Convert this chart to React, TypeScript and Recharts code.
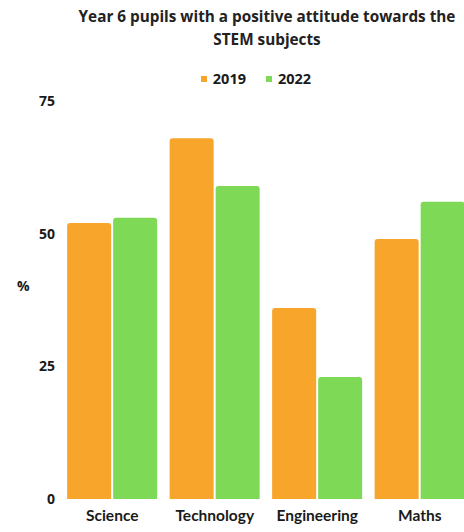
import React from "react";
import { BarChart, Bar, XAxis, YAxis, Legend } from "recharts";

const subjects = ["Science", "Technology", "Engineering", "Maths"];
const values2019 = [52, 68, 36, 49];
const values2022 = [53, 59, 23, 56];
const yTicks = [0, 25, 50, 75];

const ORANGE = "#F8A52C";
const GREEN = "#7ED956";
const FONT = "'Open Sans', sans-serif";

const data = subjects.map((s, i) => ({ subject: s, y2019: values2019[i], y2022: values2022[i] }));

function LegendContent() {
  const items = [
    { label: "2019", color: ORANGE },
    { label: "2022", color: GREEN },
  ];
  return (
    <div style={{ display: "flex", justifyContent: "center", gap: 20, fontFamily: FONT, fontWeight: 700, fontSize: 14.5, color: "#1a1a1a" }}>
      {items.map((it) => (
        <div key={it.label} style={{ display: "flex", alignItems: "center" }}>
          <span style={{ width: 6, height: 6, background: it.color, marginRight: 6, display: "inline-block" }} />
          {it.label}
        </div>
      ))}
    </div>
  );
}

export default function App() {
  return (
    <div style={{ position: "fixed", left: 0, top: 0, width: 464, height: 532, overflow: "hidden", background: "#fff" }}>
      <div
        style={{
          position: "absolute",
          top: 5,
          left: 70,
          width: 394,
          textAlign: "center",
          fontFamily: FONT,
          fontWeight: 700,
          fontSize: 15.3,
          lineHeight: "23px",
          color: "#222",
          zIndex: 2,
        }}
      >
        Year 6 pupils with a positive attitude towards the
        <br />
        STEM subjects
      </div>
      <BarChart
        width={482}
        height={532}
        data={data}
        margin={{ top: 82, right: 11, bottom: 5, left: 0 }}
        barCategoryGap="6%"
        barGap={2}
      >
        <Legend
          content={<LegendContent />}
          verticalAlign="top"
          wrapperStyle={{ top: 69, left: 146, width: 220 }}
        />
        <XAxis
          dataKey="subject"
          axisLine={false}
          tickLine={false}
          tickMargin={5}
          height={28}
          tick={{ fill: "#1a1a1a", fontFamily: "Lato, sans-serif", fontWeight: 700, fontSize: 15.5 }}
        />
        <YAxis
          width={61}
          domain={[0, 75]}
          ticks={yTicks}
          axisLine={false}
          tickLine={false}
          tickMargin={0}
          tick={{ fill: "#1a1a1a", fontFamily: FONT, fontWeight: 700, fontSize: 14 }}
          label={{ value: "%", position: "insideLeft", angle: 0, dx: 12, dy: -14, fill: "#1a1a1a", fontFamily: FONT, fontWeight: 700, fontSize: 14 }}
        />
        <Bar dataKey="y2019" name="2019" fill={ORANGE} radius={[3, 3, 0, 0]} isAnimationActive={false} />
        <Bar dataKey="y2022" name="2022" fill={GREEN} radius={[3, 3, 0, 0]} isAnimationActive={false} />
      </BarChart>
    </div>
  );
}
